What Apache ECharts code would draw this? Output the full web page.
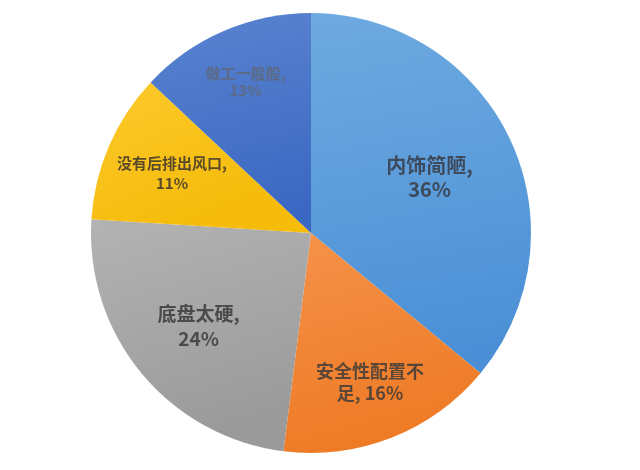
<!DOCTYPE html>
<html>
<head>
<meta charset="utf-8">
<script src="https://cdn.jsdelivr.net/npm/echarts@6/dist/echarts.min.js"></script>
<style>
html,body{margin:0;padding:0;background:#fff;}
#main{width:640px;height:470px;}
</style>
</head>
<body>
<div id="main"></div>
<script>
// Data
var categories = ['内饰简陋', '安全性配置不足', '底盘太硬', '没有后排出风口', '做工一般般'];
var values = [36, 16, 24, 11, 13];
var labelTexts = ['内饰简陋,\n36%', '安全性配置不\n足, 16%', '底盘太硬,\n24%', '没有后排出风口,\n11%', '做工一般般,\n13%'];

// Styles
var colorTop = ['#6eaae0', '#f5924a', '#b3b3b3', '#fdca2c', '#5a84d0'];
var colorBottom = ['#4a8fd6', '#ee7a25', '#9a9a9a', '#f5bc0c', '#3a67c2'];
var fontSizes = [20, 18, 19, 15, 15];
var lineHeights = [24, 22, 25, 20, 17];
var textColors = ['#3c4a5c', '#5a4636', '#4a4a4a', '#5a4a2a', '#5d6a86'];
var labelRadius = [0.58, 0.71, 0.645, 0.67, 0.73];

var chart = echarts.init(document.getElementById('main'));
var cx = 311, cy = 233, R = 220;

var data = categories.map(function (name, i) {
  return {
    name: name,
    value: values[i],
    itemStyle: {
      color: new echarts.graphic.LinearGradient(0, 0, 0.3, 1, [
        {offset: 0, color: colorTop[i]},
        {offset: 1, color: colorBottom[i]}
      ])
    },
    label: {
      formatter: labelTexts[i],
      fontSize: fontSizes[i],
      lineHeight: lineHeights[i],
      color: textColors[i]
    }
  };
});

chart.setOption({
  backgroundColor: '#ffffff',
  animation: false,
  series: [{
    type: 'pie',
    center: [cx, cy],
    radius: [0, R],
    startAngle: 90,
    clockwise: true,
    avoidLabelOverlap: false,
    itemStyle: {borderWidth: 0},
    label: {
      show: true,
      position: 'inside',
      fontFamily: '"Microsoft YaHei", "Noto Sans CJK SC", sans-serif',
      fontWeight: 'bold',
      align: 'center'
    },
    labelLine: {show: false},
    labelLayout: function (params) {
      var i = params.dataIndex;
      var r = params.labelRect;
      var lx = r.x + r.width / 2, ly = r.y + r.height / 2;
      var k = labelRadius[i] / 0.5 - 1;
      return {dx: (lx - cx) * k, dy: (ly - cy) * k};
    },
    emphasis: {disabled: true},
    data: data
  }]
});
</script>
</body>
</html>
